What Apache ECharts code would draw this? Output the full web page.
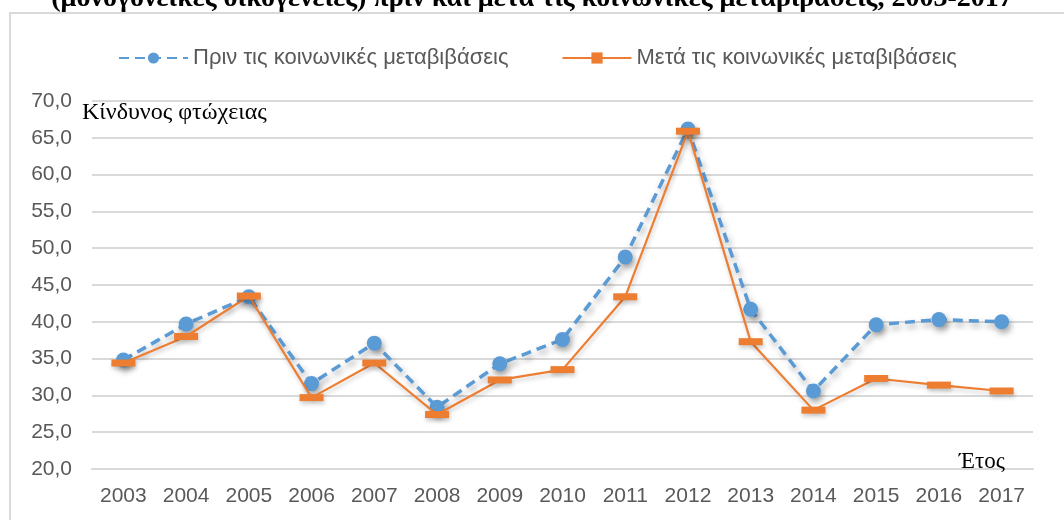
<!DOCTYPE html>
<html>
<head>
    <meta charset="utf-8">
    <title>Κίνδυνος φτώχειας</title>
    <script src="https://cdn.jsdelivr.net/npm/echarts@6/dist/echarts.min.js"></script>
    <style>
        html, body { margin: 0; padding: 0; background: #fff; }
    </style>
</head>
<body>
<div id="main" style="width: 1064px;height:520px;"></div>
<script type="text/javascript">
    // δεδομένα
    var years = ['2003', '2004', '2005', '2006', '2007', '2008', '2009', '2010',
                 '2011', '2012', '2013', '2014', '2015', '2016', '2017'];
    var before = [34.8, 39.7, 43.4, 31.6, 37.1, 28.4, 34.3, 37.6, 48.8, 66.2, 41.7, 30.6, 39.6, 40.3, 40.0];
    var after = [34.4, 38.0, 43.5, 29.7, 34.4, 27.4, 32.1, 33.5, 43.4, 65.9, 37.3, 28.0, 32.3, 31.4, 30.6];
    var seriesNames = ['Πριν τις κοινωνικές μεταβιβάσεις', 'Μετά τις κοινωνικές μεταβιβάσεις'];

    var myChart = echarts.init(document.getElementById('main'));
    var sans = '"Liberation Sans", Arial, sans-serif';
    var serif = '"Liberation Serif", "Times New Roman", serif';

    myChart.setOption({
        animation: false,
        title: {
            text: '(μονογονεϊκές οικογένειες) πριν και μετά τις κοινωνικές μεταβιβάσεις, 2003-2017',
            left: 'center',
            top: -20,
            textStyle: { fontFamily: serif, fontWeight: 'bold', fontSize: 28, color: '#000' }
        },
        legend: {
            top: 42,
            left: 113,
            itemGap: 53,
            itemWidth: 69,
            itemHeight: 14,
            textStyle: { color: '#595959', fontFamily: sans, fontSize: 22 },
            data: seriesNames
        },
        grid: { left: 92, right: 31, top: 101, bottom: 51 },
        graphic: [
            { type: 'rect', shape: { x: 10, y: 13, width: 1080, height: 530 },
              style: { fill: 'none', stroke: '#d9d9d9', lineWidth: 2 }, silent: true },
            { type: 'text', left: 82, top: 101, z: 10,
              style: { text: 'Κίνδυνος φτώχειας', font: '24px ' + serif, fill: '#000' } },
            { type: 'text', left: 959, top: 450, z: 10,
              style: { text: 'Έτος', font: '23px ' + serif, fill: '#000' } }
        ],
        xAxis: {
            type: 'category',
            data: years,
            axisLine: { lineStyle: { color: '#d9d9d9', width: 2 } },
            axisTick: { show: false },
            axisLabel: { color: '#595959', fontFamily: sans, fontSize: 21, margin: 17 }
        },
        yAxis: {
            type: 'value',
            min: 20,
            max: 70,
            interval: 5,
            axisLine: { show: false },
            axisTick: { show: false },
            splitLine: { lineStyle: { color: '#d9d9d9', width: 2 } },
            axisLabel: {
                color: '#595959', fontFamily: sans, fontSize: 21, margin: 20,
                formatter: function (v) { return v.toFixed(1).replace('.', ','); }
            }
        },
        series: [{
            name: seriesNames[0],
            type: 'line',
            data: before,
            symbol: 'circle',
            symbolSize: 15,
            z: 3,
            lineStyle: {
                color: '#5b9bd5', width: 3.5, type: [10, 6],
                shadowColor: 'rgba(0,0,0,0.35)', shadowBlur: 6, shadowOffsetX: 2, shadowOffsetY: 4
            },
            itemStyle: {
                color: '#5b9bd5',
                shadowColor: 'rgba(0,0,0,0.35)', shadowBlur: 6, shadowOffsetX: 2, shadowOffsetY: 4
            }
        }, {
            name: seriesNames[1],
            type: 'line',
            data: after,
            symbol: 'rect',
            symbolSize: [24, 7],
            z: 4,
            lineStyle: {
                color: '#ed7d31', width: 2.2,
                shadowColor: 'rgba(0,0,0,0.2)', shadowBlur: 4, shadowOffsetX: 1, shadowOffsetY: 3
            },
            itemStyle: {
                color: '#ed7d31',
                shadowColor: 'rgba(0,0,0,0.2)', shadowBlur: 4, shadowOffsetX: 1, shadowOffsetY: 3
            }
        }]
    });
</script>
</body>
</html>
